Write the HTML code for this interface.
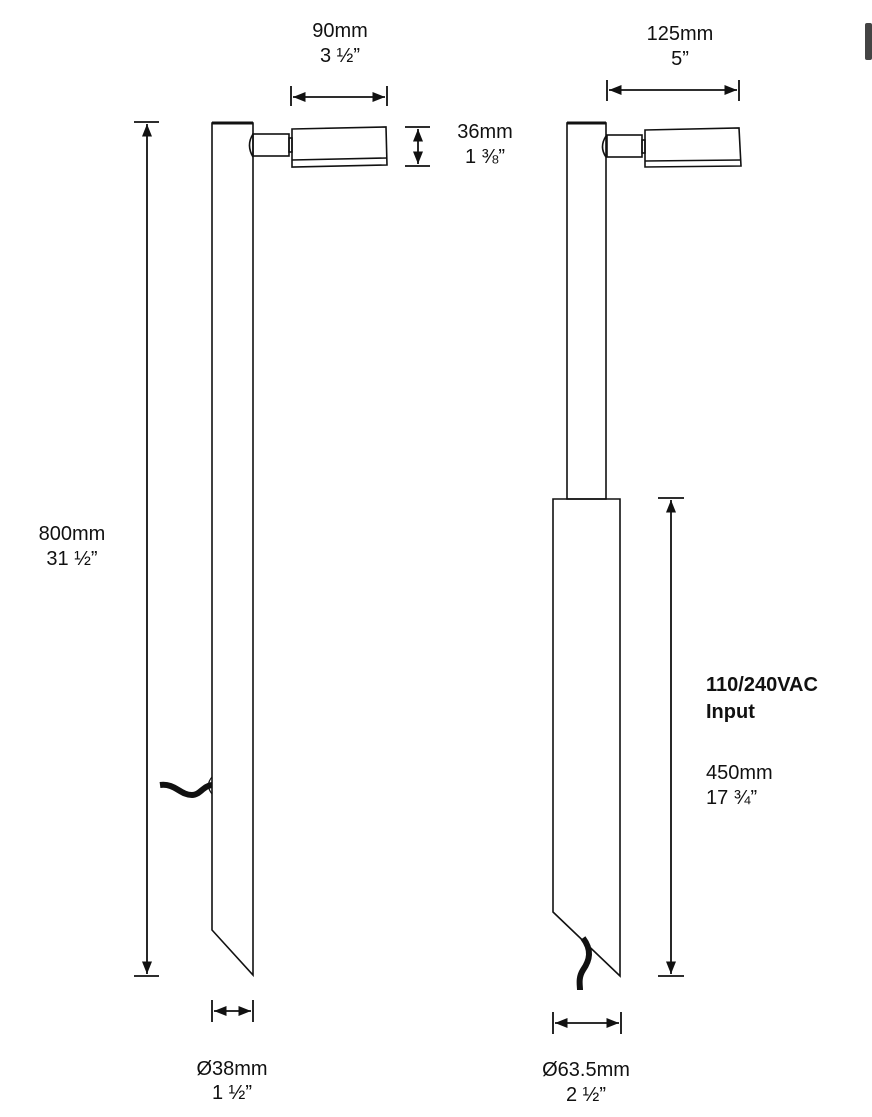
<!DOCTYPE html>
<html><head><meta charset="utf-8"><style>
body{margin:0;background:#fff;}
svg{display:block}
text{font-family:"Liberation Sans",sans-serif;font-size:20px;fill:#111;}
</style></head><body>
<svg width="872" height="1117" viewBox="0 0 872 1117" xmlns="http://www.w3.org/2000/svg">
<defs>
<marker id="a" viewBox="0 0 10 10" refX="10" refY="5" markerWidth="7" markerHeight="7" orient="auto-start-reverse"><path d="M0,1 L10,5 L0,9 z" fill="#111"/></marker>
</defs>
<rect x="865" y="23" width="7" height="37" rx="2" fill="#444"/>
<g fill="none" stroke="#111" stroke-width="1.6">
<!-- left pole -->
<path d="M212,123 L253,123 L253,975 L212,930 Z"/>
<line x1="212" y1="123" x2="253" y2="123" stroke-width="3"/>
<path d="M253,134 Q246,145 253,157"/>
<rect x="253" y="134" width="36" height="22"/>
<rect x="289" y="138" width="3" height="14"/>
<path d="M292,129 L386,127 L387,165 L292,167 Z"/>
<line x1="292" y1="160" x2="387" y2="158"/>
<!-- right pole -->
<rect x="567" y="123" width="39" height="376"/>
<line x1="567" y1="123" x2="606" y2="123" stroke-width="3"/>
<path d="M606,136 Q599,147 606,157"/>
<rect x="607" y="135" width="35" height="22"/>
<rect x="642" y="140" width="3" height="13"/>
<path d="M645,130 L739,128 L741,166 L645,167 Z"/>
<line x1="645" y1="161" x2="740" y2="160"/>
<path d="M553,499 L620,499 L620,976 L553,912 Z"/>
<!-- dims -->
<g stroke-width="1.8">
<line x1="291" y1="86" x2="291" y2="106"/><line x1="387" y1="86" x2="387" y2="106"/>
<line x1="293" y1="97" x2="385" y2="97" marker-start="url(#a)" marker-end="url(#a)"/>
<line x1="607" y1="80" x2="607" y2="101"/><line x1="739" y1="80" x2="739" y2="101"/>
<line x1="609" y1="90" x2="737" y2="90" marker-start="url(#a)" marker-end="url(#a)"/>
<line x1="405" y1="127" x2="430" y2="127"/><line x1="405" y1="166" x2="430" y2="166"/>
<line x1="418" y1="129" x2="418" y2="164" marker-start="url(#a)" marker-end="url(#a)"/>
<line x1="134" y1="122" x2="159" y2="122"/><line x1="134" y1="976" x2="159" y2="976"/>
<line x1="147" y1="124" x2="147" y2="974" marker-start="url(#a)" marker-end="url(#a)"/>
<line x1="658" y1="498" x2="684" y2="498"/><line x1="658" y1="976" x2="684" y2="976"/>
<line x1="671" y1="500" x2="671" y2="974" marker-start="url(#a)" marker-end="url(#a)"/>
<line x1="212" y1="1000" x2="212" y2="1022"/><line x1="253" y1="1000" x2="253" y2="1022"/>
<line x1="214" y1="1011" x2="251" y2="1011" marker-start="url(#a)" marker-end="url(#a)"/>
<line x1="553" y1="1012" x2="553" y2="1034"/><line x1="621" y1="1012" x2="621" y2="1034"/>
<line x1="555" y1="1023" x2="619" y2="1023" marker-start="url(#a)" marker-end="url(#a)"/>
</g>
</g>
<!-- cables -->
<path d="M160,785 C175,783 180,795 192,795 C200,795 203,786 212,785" fill="none" stroke="#111" stroke-width="6"/>
<path d="M212,777 Q205,785 212,794" fill="none" stroke="#111" stroke-width="1.2"/>
<path d="M583,938 C592,950 590,960 583,970 C578,978 580,985 580,990" fill="none" stroke="#111" stroke-width="6"/>
<!-- text -->
<g text-anchor="middle">
<text x="340" y="37">90mm</text><text x="340" y="62">3 ½”</text>
<text x="680" y="40">125mm</text><text x="680" y="65">5”</text>
<text x="72" y="540">800mm</text><text x="72" y="565">31 ½”</text>
<text x="232" y="1075">Ø38mm</text><text x="232" y="1099">1 ½”</text>
<text x="586" y="1076">Ø63.5mm</text><text x="586" y="1101">2 ½”</text>
<text x="485" y="138">36mm</text><text x="485" y="163">1 ⅜”</text>
</g>
<text x="706" y="691" font-weight="bold">110/240VAC</text>
<text x="706" y="718" font-weight="bold">Input</text>
<text x="706" y="779">450mm</text>
<text x="706" y="804">17 ¾”</text>
</svg>
</body></html>
